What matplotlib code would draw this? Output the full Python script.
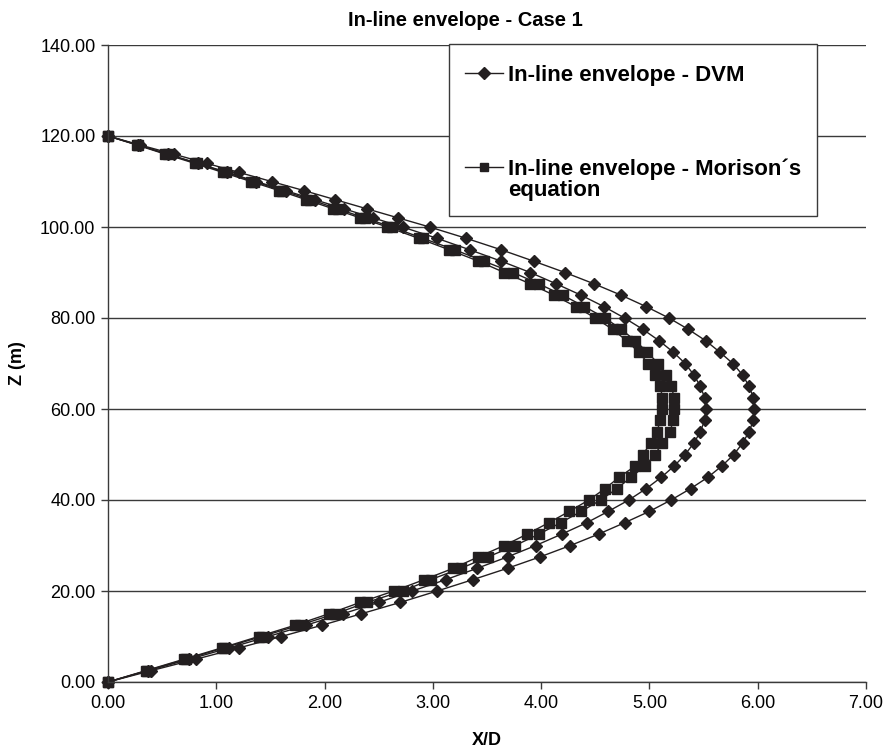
import matplotlib
matplotlib.use("Agg")
import matplotlib.pyplot as plt
from matplotlib.lines import Line2D
from matplotlib.patches import Rectangle

plt.rcParams['font.family'] = ['Liberation Sans', 'DejaVu Sans']

# depth stations (m): 2.5 m spacing up to 100 m, then 2 m up to the surface
z = [0, 2.5, 5, 7.5, 10, 12.5, 15, 17.5, 20, 22.5, 25, 27.5, 30, 32.5, 35, 37.5,
     40, 42.5, 45, 47.5, 50, 52.5, 55, 57.5, 60, 62.5, 65, 67.5, 70, 72.5, 75,
     77.5, 80, 82.5, 85, 87.5, 90, 92.5, 95, 97.5, 100,
     102, 104, 106, 108, 110, 112, 114, 116, 118, 120]

# DVM envelopes (X/D)
dvm_max = [0.00, 0.40, 0.81, 1.21, 1.60, 1.98, 2.34, 2.70, 3.04, 3.37, 3.69, 3.99,
           4.27, 4.53, 4.77, 5.00, 5.20, 5.38, 5.54, 5.67, 5.78, 5.86, 5.92, 5.96,
           5.97, 5.96, 5.92, 5.86, 5.77, 5.65, 5.52, 5.36, 5.18, 4.97, 4.74, 4.49,
           4.22, 3.93, 3.63, 3.31, 2.97,
           2.68, 2.39, 2.10, 1.81, 1.51, 1.21, 0.91, 0.61, 0.30, 0.00]
dvm_min = [0.00, 0.37, 0.75, 1.12, 1.48, 1.83, 2.17, 2.50, 2.81, 3.12, 3.41, 3.69,
           3.95, 4.19, 4.42, 4.62, 4.81, 4.97, 5.11, 5.23, 5.33, 5.41, 5.47, 5.51,
           5.52, 5.51, 5.47, 5.41, 5.33, 5.22, 5.09, 4.94, 4.77, 4.58, 4.37, 4.14,
           3.90, 3.63, 3.34, 3.04, 2.72,
           2.45, 2.18, 1.91, 1.64, 1.37, 1.10, 0.83, 0.55, 0.28, 0.00]

# Morison envelopes (X/D)
mor_max = [0.00, 0.36, 0.72, 1.07, 1.42, 1.77, 2.10, 2.39, 2.72, 2.98, 3.26, 3.51,
           3.76, 3.98, 4.18, 4.37, 4.55, 4.70, 4.83, 4.96, 5.05, 5.12, 5.19, 5.22,
           5.23, 5.23, 5.20, 5.15, 5.08, 4.98, 4.87, 4.74, 4.59, 4.40, 4.20, 3.98,
           3.74, 3.47, 3.20, 2.91, 2.62,
           2.37, 2.12, 1.87, 1.61, 1.35, 1.09, 0.82, 0.55, 0.28, 0.00]
mor_min = [0.00, 0.35, 0.70, 1.05, 1.39, 1.73, 2.04, 2.33, 2.64, 2.92, 3.19, 3.42,
           3.66, 3.87, 4.07, 4.26, 4.44, 4.59, 4.72, 4.87, 4.94, 5.01, 5.07, 5.10,
           5.12, 5.12, 5.10, 5.05, 4.99, 4.90, 4.79, 4.66, 4.50, 4.32, 4.12, 3.90,
           3.66, 3.42, 3.15, 2.87, 2.58,
           2.33, 2.08, 1.83, 1.58, 1.32, 1.06, 0.80, 0.53, 0.27, 0.00]

xticks = [0, 1, 2, 3, 4, 5, 6, 7]
yticks = [0, 20, 40, 60, 80, 100, 120, 140]

W, H = 887, 753
ink = '#231f20'
axis_col = '#3a3a3a'

fig = plt.figure(figsize=(W / 100, H / 100), dpi=100)
ax = fig.add_axes([108 / W, 1 - 682 / H, (866 - 108) / W, (682 - 45) / H])

for s in ['top', 'right']:
    ax.spines[s].set_visible(False)
for s in ['left', 'bottom']:
    ax.spines[s].set_color(axis_col)
    ax.spines[s].set_linewidth(1.0)

ax.set_xlim(0, 7)
ax.set_ylim(0, 140)
ax.set_xticks(xticks)
ax.set_yticks(yticks)
ax.set_xticklabels(['%.2f' % v for v in xticks], fontsize=13)
ax.set_yticklabels(['%.2f' % v for v in yticks], fontsize=13)
ax.tick_params(direction='out', length=5, width=1.0, color=axis_col, pad=4)
ax.yaxis.grid(True, color=axis_col, linewidth=1.0)
ax.set_axisbelow(True)

line_kw = dict(color=ink, linewidth=1.0, clip_on=False)
ax.plot(dvm_max, z, marker='D', markersize=6.5, **line_kw)
ax.plot(dvm_min, z, marker='D', markersize=6.5, **line_kw)
ax.plot(mor_max, z, marker='s', markersize=7.3, **line_kw)
ax.plot(mor_min, z, marker='s', markersize=7.3, **line_kw)

ax.set_xlabel('X/D', fontsize=13, fontweight='bold', labelpad=15)
ax.set_ylabel('Z (m)', fontsize=13, fontweight='bold', labelpad=10)
fig.text(465 / W, 1 - 20 / H, 'In-line envelope - Case 1', fontsize=14.5,
         fontweight='bold', ha='center', va='center')


# legend box drawn in figure pixel coordinates
def fx(x):
    return x / W


def fy(y):
    return 1 - y / H


fig.patches.append(Rectangle((fx(449), fy(216)), fx(817) - fx(449), fy(44) - fy(216),
                             transform=fig.transFigure, facecolor='white',
                             edgecolor=axis_col, linewidth=1.0, zorder=5))
fig.lines.append(Line2D([fx(465), fx(503)], [fy(73), fy(73)], color=ink, lw=1.0,
                        transform=fig.transFigure, zorder=6))
fig.lines.append(Line2D([fx(484)], [fy(73)], marker='D', markersize=6, color=ink,
                        transform=fig.transFigure, zorder=6))
fig.lines.append(Line2D([fx(465), fx(503)], [fy(167), fy(167)], color=ink, lw=1.0,
                        transform=fig.transFigure, zorder=6))
fig.lines.append(Line2D([fx(484)], [fy(167)], marker='s', markersize=6, color=ink,
                        transform=fig.transFigure, zorder=6))
leg_kw = dict(fontsize=16, fontweight='bold', ha='left', va='baseline', zorder=7)
fig.text(fx(508), fy(81), 'In-line envelope - DVM', **leg_kw)
# va='baseline' on a two-line text pins the last line
fig.text(fx(508), fy(196), 'In-line envelope - Morison´s\nequation',
         linespacing=1.0, **leg_kw)

fig.savefig('out.png', dpi=100)
